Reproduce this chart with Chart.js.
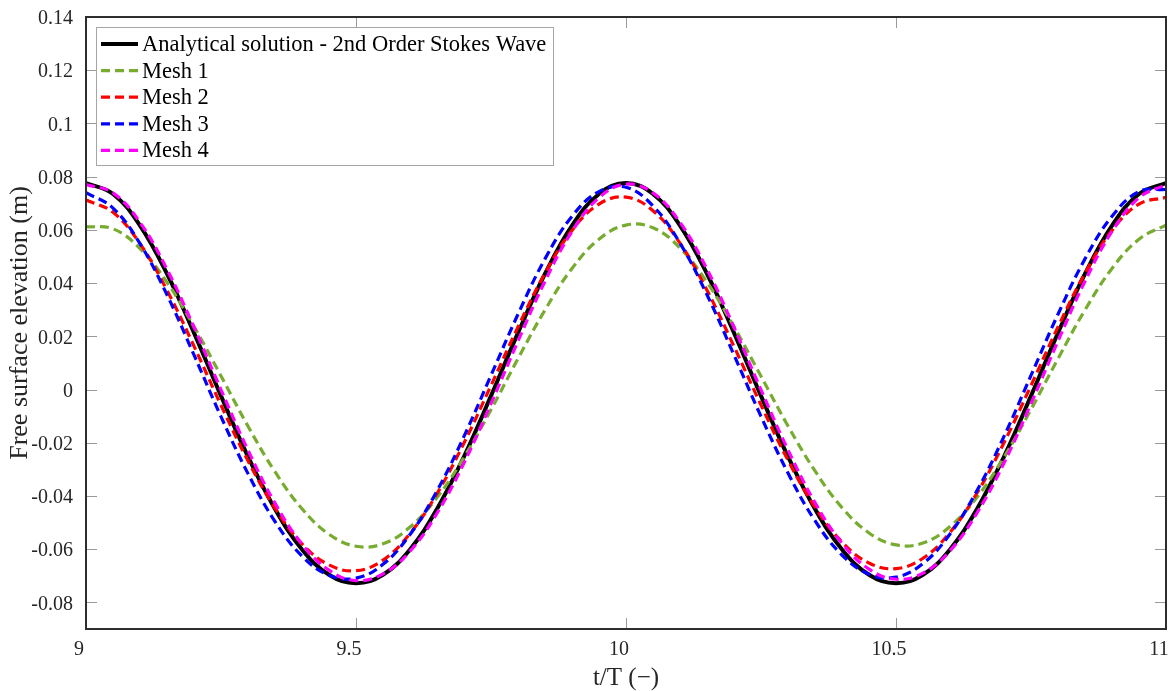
<!DOCTYPE html>
<html>
<head>
<meta charset="utf-8">
<script src="https://cdn.jsdelivr.net/npm/chart.js@4/dist/chart.umd.min.js"></script>
<style>
  body { margin: 0; background: #fff; }
</style>
</head>
<body>
<canvas id="waveChart" width="1168" height="691"></canvas>
<script>
// time axis t/T (-), sampled every 0.05
const tValues = [9, 9.05, 9.1, 9.15, 9.2, 9.25, 9.3, 9.35, 9.4, 9.45, 9.5, 9.55, 9.6, 9.65, 9.7, 9.75, 9.8, 9.85, 9.9, 9.95,
  10, 10.05, 10.1, 10.15, 10.2, 10.25, 10.3, 10.35, 10.4, 10.45, 10.5, 10.55, 10.6, 10.65, 10.7, 10.75, 10.8, 10.85, 10.9, 10.95, 11];

// Free surface elevation (m)
const analytical = [0.0776, 0.0735, 0.0616, 0.0435, 0.0213, -0.0024, -0.0252, -0.0449, -0.0601, -0.0696, -0.0728, -0.0696, -0.0601, -0.0449, -0.0252, -0.0024, 0.0213, 0.0435, 0.0616, 0.0735,
  0.0776, 0.0735, 0.0616, 0.0435, 0.0213, -0.0024, -0.0252, -0.0449, -0.0601, -0.0696, -0.0728, -0.0696, -0.0601, -0.0449, -0.0252, -0.0024, 0.0213, 0.0435, 0.0616, 0.0735, 0.0776];
const mesh1 = [0.0612, 0.0604, 0.0530, 0.0403, 0.0237, 0.0051, -0.0138, -0.0309, -0.0448, -0.0544, -0.0589, -0.0580, -0.0517, -0.0406, -0.0255, -0.0076, 0.0116, 0.0299, 0.0455, 0.0565,
  0.0618, 0.0608, 0.0532, 0.0403, 0.0236, 0.0050, -0.0137, -0.0306, -0.0444, -0.0539, -0.0584, -0.0577, -0.0515, -0.0405, -0.0254, -0.0075, 0.0116, 0.0299, 0.0455, 0.0565, 0.0618];
const mesh2 = [0.0712, 0.0666, 0.0548, 0.0373, 0.0163, -0.0059, -0.0268, -0.0446, -0.0580, -0.0659, -0.0681, -0.0641, -0.0541, -0.0391, -0.0201, 0.0015, 0.0235, 0.0437, 0.0598, 0.0697,
  0.0723, 0.0672, 0.0550, 0.0373, 0.0162, -0.0058, -0.0266, -0.0442, -0.0573, -0.0652, -0.0673, -0.0634, -0.0537, -0.0389, -0.0200, 0.0015, 0.0235, 0.0437, 0.0598, 0.0697, 0.0722];
const mesh3 = [0.0740, 0.0682, 0.0548, 0.0356, 0.0130, -0.0102, -0.0316, -0.0496, -0.0626, -0.0698, -0.0709, -0.0657, -0.0545, -0.0381, -0.0176, 0.0053, 0.0283, 0.0491, 0.0651, 0.0744,
  0.0760, 0.0690, 0.0550, 0.0356, 0.0130, -0.0101, -0.0314, -0.0493, -0.0622, -0.0694, -0.0705, -0.0654, -0.0543, -0.0380, -0.0176, 0.0053, 0.0283, 0.0491, 0.0651, 0.0744, 0.0752];
const mesh4 = [0.0770, 0.0739, 0.0628, 0.0452, 0.0234, -0.0001, -0.0228, -0.0427, -0.0581, -0.0679, -0.0718, -0.0693, -0.0608, -0.0465, -0.0276, -0.0053, 0.0182, 0.0407, 0.0594, 0.0721,
  0.0772, 0.0739, 0.0628, 0.0452, 0.0234, -0.0001, -0.0227, -0.0425, -0.0578, -0.0675, -0.0713, -0.0690, -0.0606, -0.0464, -0.0276, -0.0053, 0.0182, 0.0407, 0.0594, 0.0721, 0.0770];

const seriesLabels = ["Analytical solution - 2nd Order Stokes Wave", "Mesh 1", "Mesh 2", "Mesh 3", "Mesh 4"];
const xTicks = [9, 9.5, 10, 10.5, 11];
const yTicks = [-0.08, -0.06, -0.04, -0.02, 0, 0.02, 0.04, 0.06, 0.08, 0.1, 0.12, 0.14];

const SERIF = "'Liberation Serif', 'Times New Roman', serif";
const toPoints = (ys) => ys.map((y, i) => ({ x: tValues[i], y }));

// plot box: thick dark frame and short inward ticks on all four sides
const framePlugin = {
  id: "frame",
  afterDatasetsDraw(chart) {
    const { ctx, chartArea: a, scales } = chart;
    ctx.save();
    ctx.strokeStyle = "#9a9a9a";
    ctx.lineWidth = 1;
    yTicks.forEach(v => {
      const y = Math.round(scales.y.getPixelForValue(v)) + 0.5;
      ctx.beginPath();
      ctx.moveTo(a.left, y); ctx.lineTo(a.left + 11, y);
      ctx.moveTo(a.right, y); ctx.lineTo(a.right - 11, y);
      ctx.stroke();
    });
    xTicks.forEach(v => {
      const x = Math.round(scales.x.getPixelForValue(v)) + 0.5;
      ctx.beginPath();
      ctx.moveTo(x, a.bottom); ctx.lineTo(x, a.bottom - 11);
      ctx.moveTo(x, a.top); ctx.lineTo(x, a.top + 11);
      ctx.stroke();
    });
    ctx.strokeStyle = "#2e2e2e";
    ctx.lineWidth = 2;
    ctx.strokeRect(a.left, a.top, a.right - a.left, a.bottom - a.top);
    ctx.restore();
  }
};

// legend drawn inside the plot, upper left
const boxLegend = {
  id: "boxLegend",
  afterDraw(chart) {
    const { ctx } = chart;
    const x0 = 96, y0 = 27, w = 457, h = 138, rowH = 26.6;
    ctx.save();
    ctx.fillStyle = "#fff";
    ctx.fillRect(x0, y0, w, h);
    ctx.strokeStyle = "#a6a6a6";
    ctx.lineWidth = 1;
    ctx.strokeRect(x0 + 0.5, y0 + 0.5, w, h);
    ctx.font = "22.5px " + SERIF;
    ctx.textBaseline = "middle";
    chart.data.datasets.forEach((ds, i) => {
      const y = y0 + 17 + i * rowH;
      ctx.strokeStyle = ds.borderColor;
      ctx.lineWidth = ds.borderWidth;
      ctx.setLineDash(ds.borderDash || []);
      ctx.beginPath();
      ctx.moveTo(101, y); ctx.lineTo(138, y);
      ctx.stroke();
      ctx.setLineDash([]);
      ctx.fillStyle = "#000";
      ctx.fillText(ds.label, 142, y + 1);
    });
    ctx.restore();
  }
};

const dashed = [9, 5];
const ctx = document.getElementById("waveChart").getContext("2d");
new Chart(ctx, {
  type: "line",
  data: {
    datasets: [
      { label: seriesLabels[0], data: toPoints(analytical), borderColor: "#000000", borderWidth: 4, order: 5 },
      { label: seriesLabels[1], data: toPoints(mesh1), borderColor: "#77ac30", borderWidth: 3.2, borderDash: dashed, order: 4 },
      { label: seriesLabels[2], data: toPoints(mesh2), borderColor: "#ff0000", borderWidth: 3.2, borderDash: dashed, order: 3 },
      { label: seriesLabels[3], data: toPoints(mesh3), borderColor: "#0000ff", borderWidth: 3.2, borderDash: dashed, order: 2 },
      { label: seriesLabels[4], data: toPoints(mesh4), borderColor: "#ff00ff", borderWidth: 3.2, borderDash: dashed, order: 1 }
    ]
  },
  options: {
    responsive: false,
    animation: false,
    layout: { padding: { top: 17, right: 2, left: 0, bottom: 0 } },
    elements: { point: { radius: 0 }, line: { tension: 0.4, fill: false } },
    plugins: { legend: { display: false }, tooltip: { enabled: false } },
    scales: {
      x: {
        type: "linear",
        min: 9, max: 11,
        afterBuildTicks: (s) => { s.ticks = xTicks.map(v => ({ value: v })); },
        afterFit: (s) => { s.height = 62; s.paddingLeft = 0; s.paddingRight = 0; },
        grid: { display: false, drawTicks: false },
        border: { display: false },
        ticks: { color: "#262626", font: { family: SERIF, size: 20 }, padding: 9, maxRotation: 0, labelOffset: -7,
          callback: (v) => String(v) },
        title: { display: true, text: "t/T (\u2212)", color: "#262626", font: { family: SERIF, size: 25, lineHeight: 1 }, padding: { top: 0, bottom: 0 } }
      },
      y: {
        min: -0.09, max: 0.14,
        afterBuildTicks: (s) => { s.ticks = yTicks.map(v => ({ value: v })); },
        afterFit: (s) => { s.width = 86; s.paddingTop = 0; s.paddingBottom = 0; },
        grid: { display: false, drawTicks: false },
        border: { display: false },
        ticks: { color: "#262626", font: { family: SERIF, size: 20 }, padding: 13, labelOffset: 2,
          callback: (v) => String(Number(v.toFixed(2))) },
        title: { display: true, text: "Free surface elevation (m)", color: "#262626", font: { family: SERIF, size: 26, lineHeight: 1 }, padding: { top: 7, bottom: 0 } }
      }
    }
  },
  plugins: [framePlugin, boxLegend]
});
</script>
</body>
</html>
